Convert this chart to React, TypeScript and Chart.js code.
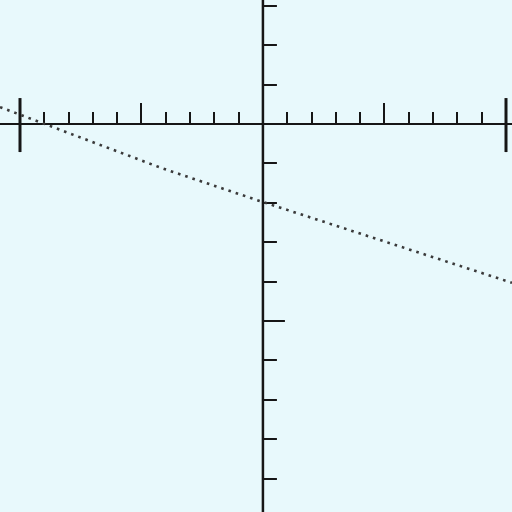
import React, { useEffect, useRef } from "react";
import { Chart, registerables } from "chart.js";

Chart.register(...registerables);

// Data
const lineX = [-10.82, -4.16, 0, 10.25];
const lineY = [0.43, -1.12, -1.98, -4.03];

// Axis ranges
const xRange = [-10.82, 10.25];
const yRange = [-9.85, 3.15];

// Tick values
const xSmallTicks = [-9, -8, -7, -6, -4, -3, -2, -1, 1, 2, 3, 4, 6, 7, 8, 9];
const xMidTicks = [-5, 5];
const xBigTicks = [-10, 10];
const ySmallTicks = [3, 2, 1, -1, -2, -3, -4, -6, -7, -8, -9];
const yMidTicks = [-5];

const axesPlugin = {
  id: "handAxes",
  beforeDatasetsDraw(chart: any) {
    const { ctx, scales } = chart;
    const xs = scales.x;
    const ys = scales.y;
    const ox = xs.getPixelForValue(0);
    const oy = ys.getPixelForValue(0);
    const W = chart.width;
    const H = chart.height;
    ctx.save();
    ctx.strokeStyle = "#161616";
    ctx.lineCap = "butt";
    // axes
    ctx.lineWidth = 2;
    ctx.beginPath();
    ctx.moveTo(0, oy);
    ctx.lineTo(W, oy);
    ctx.stroke();
    ctx.lineWidth = 2.5;
    ctx.beginPath();
    ctx.moveTo(ox, 0);
    ctx.lineTo(ox, H);
    ctx.stroke();
    // x ticks
    ctx.lineWidth = 2;
    for (const v of xSmallTicks) {
      const p = Math.round(xs.getPixelForValue(v));
      ctx.beginPath();
      ctx.moveTo(p, oy);
      ctx.lineTo(p, oy - 12);
      ctx.stroke();
    }
    for (const v of xMidTicks) {
      const p = Math.round(xs.getPixelForValue(v));
      ctx.beginPath();
      ctx.moveTo(p, oy);
      ctx.lineTo(p, oy - 21);
      ctx.stroke();
    }
    ctx.lineWidth = 3;
    for (const v of xBigTicks) {
      const p = Math.round(xs.getPixelForValue(v));
      ctx.beginPath();
      ctx.moveTo(p, oy - 26);
      ctx.lineTo(p, oy + 28);
      ctx.stroke();
    }
    // y ticks
    ctx.lineWidth = 2;
    for (const v of ySmallTicks) {
      const p = Math.round(ys.getPixelForValue(v));
      ctx.beginPath();
      ctx.moveTo(ox, p);
      ctx.lineTo(ox + 14, p);
      ctx.stroke();
    }
    for (const v of yMidTicks) {
      const p = Math.round(ys.getPixelForValue(v));
      ctx.beginPath();
      ctx.moveTo(ox, p);
      ctx.lineTo(ox + 22, p);
      ctx.stroke();
    }
    ctx.restore();
  },
};

export default function App() {
  const ref = useRef<HTMLCanvasElement | null>(null);
  useEffect(() => {
    document.body.style.margin = "0";
    document.body.style.background = "rgb(232,249,252)";
    const canvas = ref.current!;
    const chart = new Chart(canvas, {
      type: "line",
      data: {
        datasets: [
          {
            data: lineX.map((x, i) => ({ x, y: lineY[i] })),
            borderColor: "#3a3a3a",
            borderWidth: 2.6,
            borderDash: [2.6, 5],
            pointRadius: 0,
            fill: false,
            tension: 0,
          },
        ],
      },
      options: {
        animation: false,
        responsive: false,
        maintainAspectRatio: false,
        layout: { padding: 0 },
        plugins: { legend: { display: false }, tooltip: { enabled: false } },
        scales: {
          x: { type: "linear", min: xRange[0], max: xRange[1], display: false },
          y: { type: "linear", min: yRange[0], max: yRange[1], display: false },
        },
      },
      plugins: [axesPlugin],
    });
    return () => chart.destroy();
  }, []);
  return (
    <div style={{ width: 512, height: 512, background: "rgb(232,249,252)" }}>
      <canvas ref={ref} width={512} height={512} style={{ display: "block", width: 512, height: 512 }} />
    </div>
  );
}
